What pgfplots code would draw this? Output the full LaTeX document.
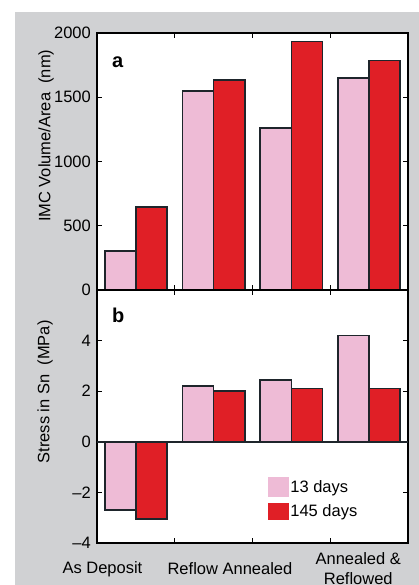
\documentclass[border=0pt]{standalone}
\usepackage{pgfplots}
\pgfplotsset{compat=1.18}
\usepackage{fontspec}
\setmainfont{Liberation Sans}
\definecolor{bggray}{HTML}{D0D1D3}
\definecolor{pinkbar}{HTML}{EEBBD6}
\definecolor{redbar}{HTML}{E01F26}
\definecolor{edge}{HTML}{1E252B}
\newcommand{\lbl}{\fontsize{16.5}{20}\selectfont}
\pgfplotsset{
  common/.style={
    scale only axis,
    width=311pt,
    xmin=0, xmax=4,
    axis line style={line width=2.2pt, black},
    axis background/.style={fill=white},
    tick style={line width=1.3pt, black},
    major tick length=5pt,
    tick align=inside,
    ytick pos=both,
    xtick pos=both,
    tick label style={font=\lbl},
    label style={font=\lbl},
    yticklabel style={inner sep=0pt, xshift=-6pt},
    legend style={font=\lbl},
  },
  pinkplot/.style={ybar, bar width=0.4, bar shift=-0.2, fill=pinkbar, draw=edge, line width=1.6pt},
  redplot/.style={ybar, bar width=0.4, bar shift=0.2, fill=redbar, draw=edge, line width=1.6pt},
}
\begin{document}
\begin{tikzpicture}
\fill[white] (0pt,0pt) rectangle (419pt,585pt);
\fill[bggray] (15pt,0pt) rectangle (419pt,573pt);
% ---- panel a ----
\begin{axis}[common,
  at={(97pt,295pt)}, anchor=south west,
  height=257pt,
  ymin=0, ymax=2000,
  ytick={0,500,1000,1500,2000},
  yticklabels={0,500,1000,1500,2000},
  xtick={1,2,3}, xticklabels={},
  ylabel={IMC Volume/Area\ \ (nm)},
  ylabel style={at={(axis description cs:-0.164,0.6)}, anchor=center},
]
\addplot[pinkplot] coordinates {(0.5,305) (1.5,1550) (2.5,1260) (3.5,1650)};
\addplot[redplot] coordinates {(0.5,645) (1.5,1635) (2.5,1935) (3.5,1785)};
\node[font=\fontsize{20}{24}\selectfont\bfseries, anchor=base west, inner sep=0pt]
  at (axis description cs:0.048,0.864) {a};
\end{axis}
% ---- panel b ----
\begin{axis}[common,
  at={(97pt,42pt)}, anchor=south west,
  height=253pt,
  ymin=-4, ymax=6,
  ytick={-4,-2,0,2,4},
  yticklabels={–4,–2,0,2,4},
  xtick={1,2,3}, xticklabels={},
  extra x ticks={0.07,1.71,3.36},
  extra x tick labels={As Deposit,Reflow Annealed,{Annealed \&\\Reflowed}},
  extra x tick style={major tick length=0pt, xticklabel pos=lower,
    xticklabel style={anchor=center, yshift=-26pt, align=center}},
  ylabel={Stress in Sn\ \ (MPa)},
  ylabel style={at={(axis description cs:-0.167,0.597)}, anchor=center},
  legend style={draw=none, fill=none, at={(axis description cs:0.55,0.261)},
    anchor=north west, inner sep=0pt, row sep=6pt,
    nodes={inner xsep=1.5pt, inner ysep=0pt}},
  legend cell align=left,
]
\addplot[pinkplot, legend image code/.code={\fill[pinkbar] (0pt,-9pt) rectangle (19pt,9pt);}]
  coordinates {(0.5,-2.7) (1.5,2.2) (2.5,2.45) (3.5,4.2)};
\addlegendentry{13 days}
\addplot[redplot, legend image code/.code={\fill[redbar] (0pt,-8pt) rectangle (19pt,8pt);}]
  coordinates {(0.5,-3.05) (1.5,2.0) (2.5,2.1) (3.5,2.1)};
\addlegendentry{145 days}
\draw[line width=1.6pt, edge] (axis cs:0,0) -- (axis cs:4,0);
\node[font=\fontsize{20}{24}\selectfont\bfseries, anchor=base west, inner sep=0pt]
  at (axis description cs:0.048,0.870) {b};
\end{axis}
\pgfresetboundingbox
\path[use as bounding box] (0pt,0pt) rectangle (419pt,585pt);
\end{tikzpicture}
\end{document}
